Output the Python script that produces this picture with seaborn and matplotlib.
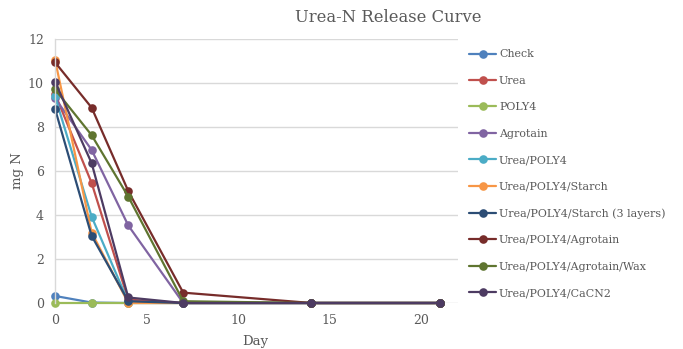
import matplotlib
matplotlib.use("Agg")
import matplotlib.pyplot as plt
import seaborn as sns
import pandas as pd

days = [0, 2, 4, 7, 14, 21]
series_names = ["Check", "Urea", "POLY4", "Agrotain", "Urea/POLY4",
                "Urea/POLY4/Starch", "Urea/POLY4/Starch (3 layers)",
                "Urea/POLY4/Agrotain", "Urea/POLY4/Agrotain/Wax",
                "Urea/POLY4/CaCN2"]
check = [0.32, 0.02, 0.0, 0.0, 0.0, 0.0]
urea = [9.5, 5.45, 0.15, 0.0, 0.0, 0.0]
poly4 = [0.0, 0.0, 0.0, 0.0, 0.0, 0.0]
agrotain = [9.3, 6.95, 3.52, 0.0, 0.0, 0.0]
urea_poly4 = [9.38, 3.92, 0.05, 0.0, 0.0, 0.0]
urea_poly4_starch = [11.05, 3.2, 0.0, 0.0, 0.0, 0.0]
urea_poly4_starch3 = [8.82, 3.05, 0.08, 0.0, 0.0, 0.0]
urea_poly4_agrotain = [10.93, 8.87, 5.08, 0.47, 0.0, 0.0]
urea_poly4_agrotain_wax = [9.7, 7.62, 4.83, 0.08, 0.0, 0.0]
urea_poly4_cacn2 = [10.05, 6.35, 0.25, 0.0, 0.0, 0.0]

values = [check, urea, poly4, agrotain, urea_poly4, urea_poly4_starch,
          urea_poly4_starch3, urea_poly4_agrotain, urea_poly4_agrotain_wax,
          urea_poly4_cacn2]
colors = ["#4F81BD", "#C0504D", "#9BBB59", "#8064A2", "#4BACC6", "#F79646",
          "#2C4D75", "#772C2A", "#5F7530", "#4D3B62"]

rows = []
for name, vals in zip(series_names, values):
    for d, v in zip(days, vals):
        rows.append({"Day": d, "mg N": v, "Series": name})
df = pd.DataFrame(rows)

sns.set_style("white")
plt.rcParams["font.family"] = ["DejaVu Serif"]

fig = plt.figure(figsize=(6.83, 3.49), dpi=100)
ax = fig.add_axes([55/683, 1-303/349, 403/683, (303-38.7)/349])

sns.lineplot(data=df, x="Day", y="mg N", hue="Series", hue_order=series_names,
             palette=colors, marker="o", markersize=6.2, markeredgewidth=0,
             linewidth=1.6, ax=ax, legend=False, estimator=None, sort=False)
for l in ax.lines:
    l.set_clip_on(False)

ax.set_xlim(0, 22)
ax.set_ylim(0, 12)
ax.set_xticks([0, 5, 10, 15, 20])
ax.set_yticks([0, 2, 4, 6, 8, 10, 12])
ax.yaxis.grid(True, color="#D9D9D9", linewidth=1.0)
ax.set_axisbelow(True)
for s in ["top", "right", "bottom"]:
    ax.spines[s].set_visible(False)
ax.spines["left"].set_color("#D9D9D9")
ax.spines["left"].set_linewidth(1.0)
ax.tick_params(axis="y", length=0, labelsize=9, labelcolor="#595959", pad=8)
ax.tick_params(axis="x", length=0, labelsize=9, labelcolor="#595959", pad=8)
ax.set_xlabel("Day", fontsize=9.5, color="#595959")
ax.set_ylabel("mg N", fontsize=9.5, color="#595959")
ax.xaxis.set_label_coords((255-55)/403, -(341-303)/264.3)
ax.yaxis.set_label_coords((18-55)/403, 0.5)
ax.xaxis.label.set_va("center")
ax.yaxis.label.set_va("center")

fig.text(388/683, 1-18/349, "Urea-N Release Curve", ha="center", va="center",
         fontsize=11.8, color="#595959")

handles = [plt.Line2D([], [], color=c, marker="o", markersize=6.2,
                      markeredgewidth=0, linewidth=1.6) for c in colors]
leg = fig.legend(handles, series_names, loc="upper left",
                 bbox_to_anchor=(465/683, 1-45/349), frameon=False,
                 fontsize=7.9, labelcolor="#595959", handlelength=2.4,
                 handletextpad=0.3, labelspacing=1.5, borderaxespad=0)

fig.savefig("out.png", dpi=100)
